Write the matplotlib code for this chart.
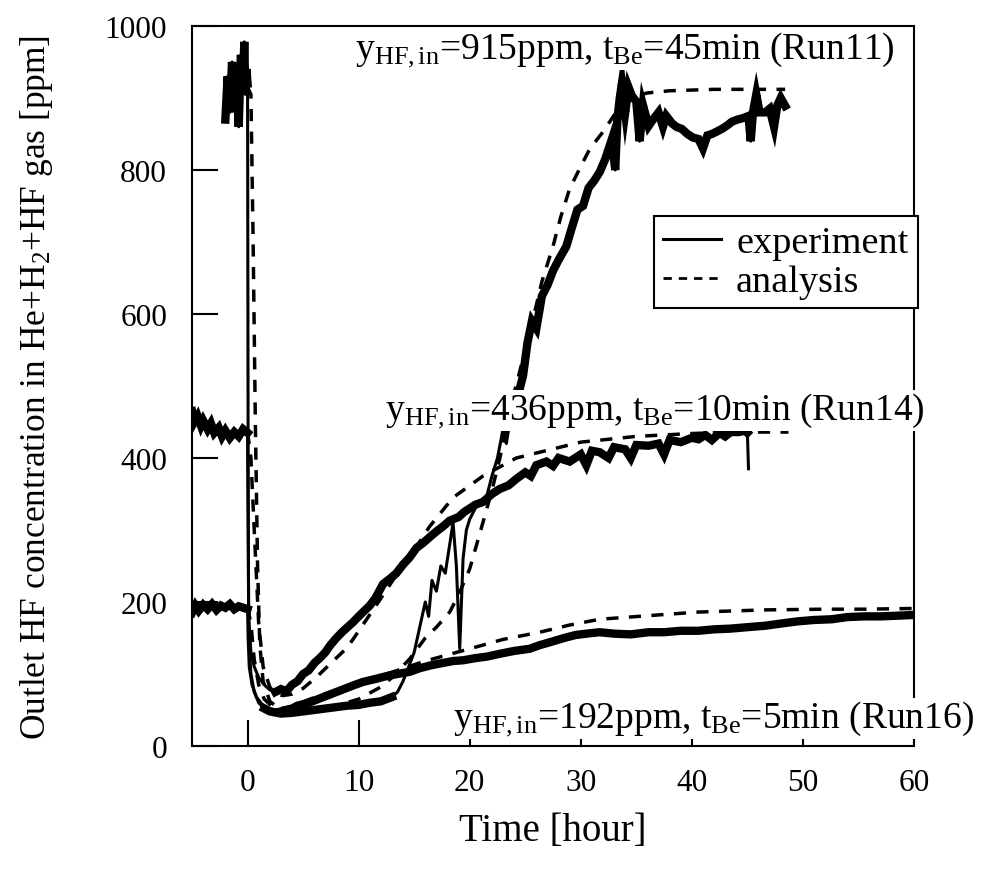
import matplotlib
matplotlib.use('Agg')
import matplotlib.pyplot as plt
from matplotlib.lines import Line2D

plt.rcParams['font.family'] = ['Liberation Serif', 'DejaVu Serif']
plt.rcParams['mathtext.fontset'] = 'custom'
plt.rcParams['mathtext.rm'] = 'Liberation Serif'
plt.rcParams['mathtext.it'] = 'Liberation Serif:italic'

# Run11: y_HF,in = 915 ppm, experiment
t11 = [-2.0, -1.8, -1.6, -1.4, -1.2, -1.0, -0.8, -0.6, -0.4, -0.3, -0.2, -0.1, 0.0,
       0.05, 0.1, 0.3, 0.6, 1.0, 1.5, 2, 3, 4, 5, 6, 7, 8, 9, 10, 11, 12, 13, 13.5,
       14, 14.5, 15, 15.5, 16, 16.3, 16.6, 17, 17.4, 17.8, 18.2, 18.5, 18.8, 19.1,
       19.4, 19.7, 20, 20.5, 21, 21.5, 22, 22.5, 23, 23.3, 23.6, 24, 24.4, 24.8,
       25.2, 25.6, 26, 26.5, 27, 27.5, 28, 28.7, 29.2, 29.7, 30.2, 30.7, 31.2, 31.7,
       32.2, 32.8, 33.1, 33.3, 33.5, 33.7, 34, 34.3, 34.6, 35, 35.3, 35.6, 36.1,
       36.5, 37, 37.4, 37.7, 38.2, 38.6, 39.1, 39.6, 40.1, 40.6, 41, 41.4, 41.8,
       42.2, 42.7, 43.2, 43.6, 44.1, 44.6, 45.1, 45.3, 45.5, 45.8, 46.1, 46.6, 47,
       47.4, 47.7, 48, 48.4]
c11 = [870, 930, 880, 950, 900, 940, 860, 960, 910, 978, 905, 940, 920,
       400, 150, 100, 75, 60, 52, 48, 45, 46, 48, 50, 52, 54, 56, 57, 60, 62, 68, 75,
       90, 110, 130, 165, 200, 180, 230, 215, 250, 240, 280, 310, 250, 135,
       260, 300, 315, 330, 340, 345, 375, 400, 440, 420, 450, 470, 490, 514,
       560, 590, 580, 625, 640, 660, 675, 694, 720, 745, 750, 775, 785, 797,
       815, 843, 800, 870, 899, 920, 880, 915, 903, 895, 840, 890, 861,
       870, 880, 860, 875, 865, 860, 857, 850, 845, 843, 830, 848, 850,
       853, 857, 862, 867, 870, 872, 875, 840, 880, 905, 880, 880, 885,
       860, 890, 900, 889]

# Run11 analysis
ta11 = [0, 0.3, 0.5, 0.7, 0.9, 1.1, 1.4, 2, 3, 4, 6, 8, 10, 12, 13, 14.6, 16, 17,
        18.2, 19, 20, 21, 22, 22.7, 24, 25, 25.7, 26.5, 27.5, 28.2, 29, 30, 30.8,
        32, 33, 34, 35, 36, 38, 42, 48.4]
a11 = [915, 905, 700, 450, 250, 140, 90, 62, 50, 46, 50, 56, 65, 82, 95, 121, 150, 165,
       186, 210, 246, 300, 355, 399, 490, 550, 593, 645, 694, 735, 774, 805, 829,
       853, 876, 893, 903, 907, 910, 912, 912]

# Run14: y_HF,in = 436 ppm, experiment
t14 = [-5, -4.8, -4.5, -4.2, -4, -3.6, -3.3, -3, -2.6, -2.3, -2, -1.6, -1.2, -0.8,
       -0.4, 0, 0.05, 0.1, 0.3, 0.6, 1, 1.5, 2, 2.5, 3, 3.5, 4, 4.5, 5, 5.5, 6, 6.5,
       7, 7.4, 8, 8.5, 9, 9.5, 10, 10.4, 11, 11.5, 12.2, 12.8, 13.4, 14, 14.6, 15.2,
       15.8, 16.4, 17, 17.6, 18.2, 19, 19.5, 20, 20.5, 21.2, 22, 22.7, 23.5, 24.2,
       25, 25.5, 26, 26.9, 27.5, 28, 29, 30, 30.5, 31, 31.7, 32.5, 33, 34, 34.5,
       35, 36.1, 37, 37.5, 38, 39, 40, 40.6, 41.2, 41.8, 42.5, 43, 43.5, 44.2,
       44.8, 45.0, 45.1]
c14 = [465, 450, 458, 445, 452, 440, 448, 435, 442, 430, 438, 428, 436, 430,
       440, 435, 300, 180, 130, 110, 95, 85, 78, 75, 79, 76, 85, 90, 100, 105, 115, 122,
       130, 139, 150, 158, 165, 172, 180, 186, 195, 205, 225, 232, 240, 252, 262, 275,
       282, 290, 298, 305, 313, 318, 325, 330, 335, 339, 350, 357, 362, 371,
       380, 375, 390, 395, 389, 400, 395, 405, 390, 410, 408, 400, 415, 412, 400,
       418, 417, 420, 405, 425, 422, 428, 426, 432, 425, 435, 430, 436, 436,
       438, 435, 385]

# Run14 analysis
ta14 = [0, 0.3, 0.6, 1, 1.4, 2, 2.5, 3.2, 4, 5, 6.3, 7.5, 9, 10.9, 12, 13.5, 15,
        16.4, 18.5, 21.2, 24.2, 26.3, 30, 35, 40, 44, 48.7]
a14 = [436, 400, 300, 170, 110, 82, 72, 70, 72, 80, 97, 115, 137, 180, 205, 240, 272,
       305, 345, 375, 400, 408, 422, 430, 434, 436, 436]

# Run16: y_HF,in = 192 ppm, experiment
t16 = [-5, -4.7, -4.4, -4, -3.6, -3.2, -2.8, -2.4, -2, -1.6, -1.2, -0.8, -0.4, 0,
       0.05, 0.15, 0.4, 0.8, 1.3, 2, 3, 4, 4.5, 5.5, 6.5, 7.5, 8.5, 9.5, 10.4, 11.5,
       12.5, 13.5, 14.6, 15.5, 16.5, 17.5, 18.5, 19.4, 20.5, 21.5, 22.7, 24, 25.4,
       26.3, 27.2, 28.5, 29.5, 30.5, 31.7, 33, 34.5, 36.1, 37.5, 39, 40.6, 42,
       43.5, 45, 46.6, 48, 49.5, 51, 52.6, 54, 55.5, 57, 58.6, 60]
c16 = [185, 195, 188, 196, 190, 197, 189, 195, 192, 197, 190, 194, 192, 190,
       150, 110, 85, 68, 58, 52, 48, 52, 56, 60, 66, 72, 78, 84, 89, 93,
       97, 100, 103, 108, 112, 115, 118, 119, 122, 124, 128, 132, 135,
       140, 144, 150, 154, 156, 158, 156, 155, 158, 158, 160, 160, 162,
       163, 165, 167, 170, 173, 175, 176, 179, 180, 180, 181, 182]

# Run16 analysis
ta16 = [0, 0.3, 0.6, 1, 1.5, 2.2, 3, 4, 5.6, 8, 10, 13.1, 16, 20, 23, 26.3, 29,
        31.7, 36.1, 40.6, 46.6, 52, 55.6, 60]
a16 = [192, 170, 120, 85, 65, 55, 52, 55, 65, 78, 88, 103, 118, 135, 148, 158, 168,
       176, 181, 186, 189, 190, 190, 191]

labels = [
    (9.7, 967, r'y$_{\mathrm{HF,in}}$=915ppm, t$_{\mathrm{Be}}$=45min (Run11)'),
    (12.4, 466, r'y$_{\mathrm{HF,in}}$=436ppm, t$_{\mathrm{Be}}$=10min (Run14)'),
    (18.5, 38, r'y$_{\mathrm{HF,in}}$=192ppm, t$_{\mathrm{Be}}$=5min (Run16)'),
]

fig = plt.figure(figsize=(9.94, 8.79), dpi=100)
ax = fig.add_axes([0.1932, 0.1502, 0.7263, 0.8191])


def draw_exp(t, c, spans):
    # thin trace everywhere, thick where the measured signal is a noisy band
    ax.plot(t, c, color='black', lw=2.2)
    for lo, hi in spans:
        idx = [i for i, v in enumerate(t) if lo <= v <= hi]
        ax.plot([t[i] for i in idx], [c[i] for i in idx], color='black',
                lw=6, solid_joinstyle='miter')


draw_exp(t11, c11, [(-2, 0), (1.5, 13), (23.6, 48.4)])
draw_exp(t14, c14, [(-5, 0), (2.5, 45)])
draw_exp(t16, c16, [(-5, 0), (3, 60)])

ana_kw = dict(color='black', lw=2.5, linestyle=(0, (3.5, 3)))
ax.plot(ta11, a11, **ana_kw)
ax.plot(ta14, a14, **ana_kw)
ax.plot(ta16, a16, **ana_kw)

for k, (x, y, s) in enumerate(labels):
    ax.text(x, y, s, fontsize=27, ha='left', va='center',
            zorder=2.4 if k == 0 else 6, clip_on=False,
            bbox=dict(facecolor='white', edgecolor='none', pad=0.5))

ax.set_xlim(-5, 60)
ax.set_ylim(0, 1000)
ax.set_xticks(range(0, 61, 10))
ax.set_yticks(range(0, 1001, 200))
ax.tick_params(direction='in', length=19, width=1.5, labelsize=22.5)
ax.tick_params(axis='y', pad=18)
ax.tick_params(axis='x', pad=16)
for sp in ax.spines.values():
    sp.set_linewidth(1.5)

ax.set_xlabel('Time [hour]', fontsize=28)
ax.xaxis.set_label_coords(0.5, -0.092)
ax.set_ylabel(r'Outlet HF concentration in He+H$_\mathrm{2}$+HF gas [ppm]', fontsize=25.5)
ax.yaxis.set_label_coords(-0.19, 0.5)

handles = [Line2D([], [], color='black', lw=2.2),
           Line2D([], [], color='black', lw=2.0, linestyle=(0, (3, 2.5)))]
leg = ax.legend(handles, ['experiment', 'analysis'], loc='upper right',
                bbox_to_anchor=(1.0055, 0.736), fontsize=27.5, frameon=True,
                fancybox=False, framealpha=1, edgecolor='black',
                handlelength=1.5, handletextpad=0.4, borderpad=0.25,
                labelspacing=0.1, borderaxespad=0)
leg.get_frame().set_linewidth(1.5)
leg.set_zorder(7)

fig.savefig('out.png', dpi=100)
